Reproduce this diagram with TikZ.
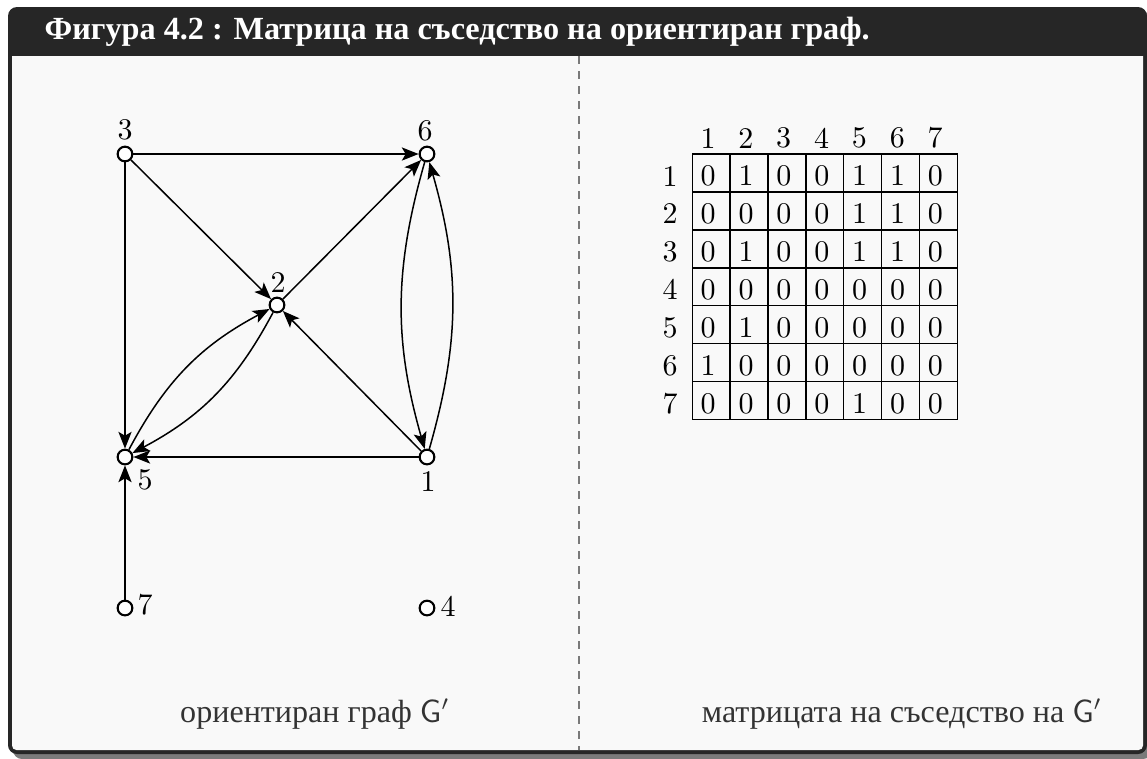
\documentclass[tikz,border=0pt]{standalone}
\usepackage{fontspec}
\newfontfamily\cyrfont{Liberation Serif}
\usetikzlibrary{arrows.meta}
\definecolor{framedark}{HTML}{262626}
\definecolor{bodybg}{HTML}{F9F9F9}
\definecolor{shadowgray}{HTML}{7A7A7A}

\begin{document}
\begin{tikzpicture}[
  x=0.3333pt, y=-0.3333pt,
  >={Stealth[length=5.6pt,width=4.4pt,inset=1.3pt]},
  vertex/.style={circle, draw, line width=0.7pt, fill=white, minimum size=4.9pt, inner sep=0pt},
  vlabel/.style={inner sep=0pt},
  edge/.style={->, line width=0.5pt},
  cell/.style={draw, line width=0.5pt, minimum size=12.62pt, inner sep=0pt, text height=8.4pt, text depth=0pt, text width=7pt, align=left},
  hdr/.style={inner sep=0pt},
  caption/.style={font=\fontsize{10.7pt}{13pt}\cyrfont, text=black!80, inner sep=0pt},
  title/.style={font=\fontsize{10.75pt}{13pt}\cyrfont\bfseries, text=white, inner sep=0pt, anchor=west}
]
\useasboundingbox (0,0) rectangle (1147,758);
\fill[white] (0,0) rectangle (1147,758);
% frame
\fill[shadowgray, rounded corners=3pt] (13,12) rectangle (1152,759);
\fill[framedark, rounded corners=3pt] (8,7) rectangle (1147,754);
\fill[bodybg] (12,56) -- (1143,56) [rounded corners=1.5pt] -- (1143,750) -- (12,750) [sharp corners] -- cycle;
\node[title] (title) at (44,32) {Фигура 4.2 : Матрица на съседство на ориентиран граф.};
\coordinate (divtop) at (579,56);
\coordinate (divbot) at (579,750);
\draw[shadowgray, line width=0.45pt, dash pattern=on 2.7pt off 2.3pt] (divtop) -- (divbot);

% graph
\node[vertex] (n3) at (125,154) {};
\node[vertex] (n6) at (427,154) {};
\node[vertex] (n2) at (277,305) {};
\node[vertex] (n5) at (125,457) {};
\node[vertex] (n1) at (427,457) {};
\node[vertex] (n7) at (125,608) {};
\node[vertex] (n4) at (427,608) {};
\node[vlabel] (l3) at (125,130) {3};
\node[vlabel] (l6) at (425,131) {6};
\node[vlabel] (l2) at (278,282) {2};
\node[vlabel] (l5) at (145,480) {5};
\node[vlabel] (l1) at (428,481) {1};
\node[vlabel] (l7) at (145,605) {7};
\node[vlabel] (l4) at (448,606) {4};
\draw[edge] (n3) -- (n6);
\draw[edge] (n3) -- (n2);
\draw[edge] (n3) -- (n5);
\draw[edge] (n2) -- (n6);
\draw[edge] (n1) -- (n2);
\draw[edge] (n1) -- (n5);
\draw[edge] (n7) -- (n5);
\draw[edge] (n6) to[bend right=16] (n1);
\draw[edge] (n1) to[bend right=16] (n6);
\draw[edge] (n2) to[bend left=17] (n5);
\draw[edge] (n5) to[bend left=17] (n2);
\node[caption] (capL) at (315,714) {ориентиран граф $\mathsf{G}'$};

% adjacency matrix
\foreach \c in {1,...,7}
  \node[hdr] (h\c) at ({708+(\c-1)*37.86},138) {\c};
\foreach \r/\row in {1/{0,1,0,0,1,1,0}, 2/{0,0,0,0,1,1,0}, 3/{0,1,0,0,1,1,0},
    4/{0,0,0,0,0,0,0}, 5/{0,1,0,0,0,0,0}, 6/{1,0,0,0,0,0,0}, 7/{0,0,0,0,1,0,0}} {
  \node[hdr] (r\r) at (670,{176+(\r-1)*37.9}) {\r};
  \foreach \v [count=\c] in \row
    \node[cell] (m\r\c) at ({711.2+(\c-1)*37.86},{173+(\r-1)*37.9}) {\v};
}
\node[caption] (capR) at (902,714) {матрицата на съседство на $\mathsf{G}'$};
\end{tikzpicture}
\end{document}
